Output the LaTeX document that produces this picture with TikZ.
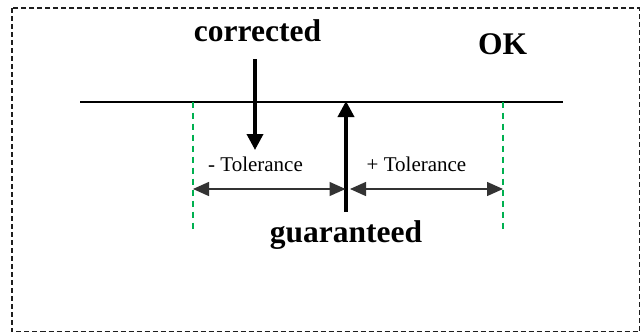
\documentclass[tikz,border=0pt]{standalone}
\usepackage{fontspec}
\setmainfont{Liberation Serif}
\usetikzlibrary{arrows.meta}
\definecolor{tolgreen}{RGB}{0,176,80}
\definecolor{framegray}{RGB}{30,30,30}
\tikzset{
  bigtext/.style={font=\fontsize{31.5}{36}\selectfont\bfseries, inner sep=0pt, anchor=base},
  toltext/.style={font=\fontsize{21}{25}\selectfont, inner sep=0pt, anchor=base},
  frameline/.style={draw=framegray, line width=1.2pt, dash pattern=on 5pt off 3pt},
  limitline/.style={draw=tolgreen, line width=1.5pt, dash pattern=on 6pt off 5pt},
  markarrow/.style={line width=3.6pt, -{Triangle[length=16pt,width=16pt]}},
  dimarrow/.style={draw=black!80, line width=1.4pt,
    {Triangle[length=16pt,width=14pt]}-{Triangle[length=16pt,width=14pt]}},
}
\begin{document}
\begin{tikzpicture}[x=1pt,y=-1pt]
  \useasboundingbox (0,0) rectangle (641,333);
  % outer dashed frame
  \draw[frameline] (12,8) rectangle (639.5,331.5);

  % reference axis
  \coordinate (axisL) at (80,101.5);
  \coordinate (axisR) at (563,101.5);
  \draw[line width=2pt] (axisL) -- (axisR);

  % tolerance limits
  \coordinate (limLtop) at (193,101.5);
  \coordinate (limLbot) at (193,230);
  \coordinate (limRtop) at (503,101.5);
  \coordinate (limRbot) at (503,230);
  \draw[limitline] (limLtop) -- (limLbot);
  \draw[limitline] (limRtop) -- (limRbot);

  % labels
  \node[bigtext] (corr) at (257.5,41) {corrected};
  \node[bigtext] (ok) at (502.5,54) {OK};
  \node[bigtext] (guar) at (346,242) {guaranteed};
  \node[toltext] (tolm) at (255.5,171) {- Tolerance};
  \node[toltext] (tolp) at (416.5,171) {+ Tolerance};

  % corrected value marker
  \coordinate (corrTop) at (255,59);
  \coordinate (corrTip) at (255,150);
  \draw[markarrow] (corrTop) -- (corrTip);

  % guaranteed value marker
  \coordinate (guarBot) at (346,212);
  \coordinate (guarTip) at (346,101);
  \draw[markarrow] (guarBot) -- (guarTip);

  % tolerance spans
  \coordinate (dimL) at (193,189);
  \coordinate (dimM1) at (345.5,189);
  \coordinate (dimM2) at (350,189);
  \coordinate (dimR) at (503,189);
  \draw[dimarrow] (dimL) -- (dimM1);
  \draw[dimarrow] (dimM2) -- (dimR);
\end{tikzpicture}
\end{document}
